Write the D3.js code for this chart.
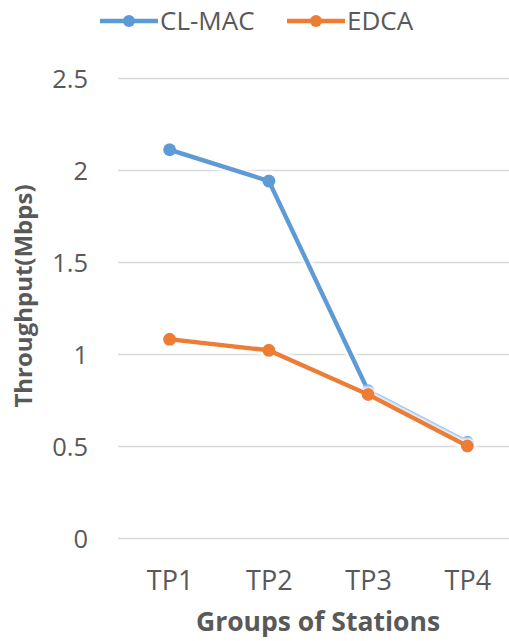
<!DOCTYPE html>
<html>
<head>
<meta charset="utf-8">
<script src="https://cdn.jsdelivr.net/npm/d3@7"></script>
<style>
  html, body { margin: 0; padding: 0; background: #fff; }
  svg { display: block; }
  text { font-family: "Open Sans", "Noto Sans", sans-serif; }
</style>
</head>
<body>
<svg id="chart" width="509" height="641"></svg>
<script>
// Throughput per group of stations
const categories = ["TP1", "TP2", "TP3", "TP4"];
const clmacValues = [2.11, 1.94, 0.80, 0.52];
const edcaValues = [1.08, 1.02, 0.78, 0.50];
const yTicks = [0, 0.5, 1, 1.5, 2, 2.5];
const seriesNames = ["CL-MAC", "EDCA"];

const series = [
  { name: seriesNames[0], values: clmacValues, color: "#5B9BD5" },
  { name: seriesNames[1], values: edcaValues, color: "#ED7D31" }
];

const W = 509, H = 641;
const svg = d3.select("#chart");

const x = d3.scalePoint().domain(categories).range([120, 517]).padding(0.5);
const y = d3.scaleLinear().domain([0, 2.5]).range([538, 78]);

const defs = svg.append("defs");
const glow = defs.append("filter").attr("id", "glow")
  .attr("x", "-20%").attr("y", "-20%").attr("width", "140%").attr("height", "140%");
glow.append("feMorphology").attr("in", "SourceAlpha").attr("operator", "dilate").attr("radius", 2).attr("result", "d");
glow.append("feGaussianBlur").attr("in", "d").attr("stdDeviation", 1.5).attr("result", "b");
glow.append("feFlood").attr("flood-color", "#ffffff").attr("flood-opacity", 0.9);
glow.append("feComposite").attr("in2", "b").attr("operator", "in").attr("result", "halo");
const merge = glow.append("feMerge");
merge.append("feMergeNode").attr("in", "halo");
merge.append("feMergeNode").attr("in", "SourceGraphic");

// gridlines and value labels
const yAxis = d3.axisLeft(y).tickValues(yTicks).tickSize(-(W - 118)).tickFormat(d => String(d));
const gy = svg.append("g").attr("transform", "translate(118,0)").call(yAxis);
gy.select(".domain").remove();
gy.selectAll(".tick line").attr("stroke", "#d9d9d9").attr("stroke-width", 1.5);
gy.selectAll(".tick text").attr("fill", "#595959").attr("font-size", 25.5).attr("x", -30).attr("dy", "0.36em");

// category labels
const xAxis = d3.axisBottom(x).tickSize(0).tickPadding(0);
const gx = svg.append("g").attr("transform", "translate(0,582)").call(xAxis);
gx.select(".domain").remove();
gx.selectAll(".tick text").attr("fill", "#595959").attr("font-size", 27).attr("dy", 0).attr("y", 8);

// axis titles
svg.append("text").attr("x", 318).attr("y", 631).attr("text-anchor", "middle")
  .attr("font-size", 26.5).attr("font-weight", "bold").attr("fill", "#595959")
  .text("Groups of Stations");
svg.append("text").attr("transform", "translate(32,296) rotate(-90)").attr("text-anchor", "middle")
  .attr("font-size", 24).attr("font-weight", "bold").attr("fill", "#595959")
  .text("Throughput(Mbps)");

// series lines and markers
const line = d3.line().x((d, i) => x(categories[i])).y(d => y(d));
series.forEach(s => {
  const g = svg.append("g").attr("filter", "url(#glow)");
  g.append("path").datum(s.values).attr("d", line)
    .attr("fill", "none").attr("stroke", s.color).attr("stroke-width", 4.5)
    .attr("stroke-linejoin", "round").attr("stroke-linecap", "round");
  g.selectAll("circle").data(s.values).join("circle")
    .attr("cx", (d, i) => x(categories[i])).attr("cy", d => y(d)).attr("r", 6.5)
    .attr("fill", s.color);
});

// legend
const legendItems = [
  { s: series[0], x0: 100 },
  { s: series[1], x0: 287 }
];
legendItems.forEach(({ s, x0 }) => {
  const g = svg.append("g");
  g.append("line").attr("x1", x0).attr("x2", x0 + 58).attr("y1", 21).attr("y2", 21)
    .attr("stroke", s.color).attr("stroke-width", 4.5);
  g.append("circle").attr("cx", x0 + 29).attr("cy", 21).attr("r", 6).attr("fill", s.color);
  g.append("text").attr("x", x0 + 60).attr("y", 21).attr("dy", "0.36em")
    .attr("font-size", 26).attr("fill", "#595959").text(s.name);
});
</script>
</body>
</html>
